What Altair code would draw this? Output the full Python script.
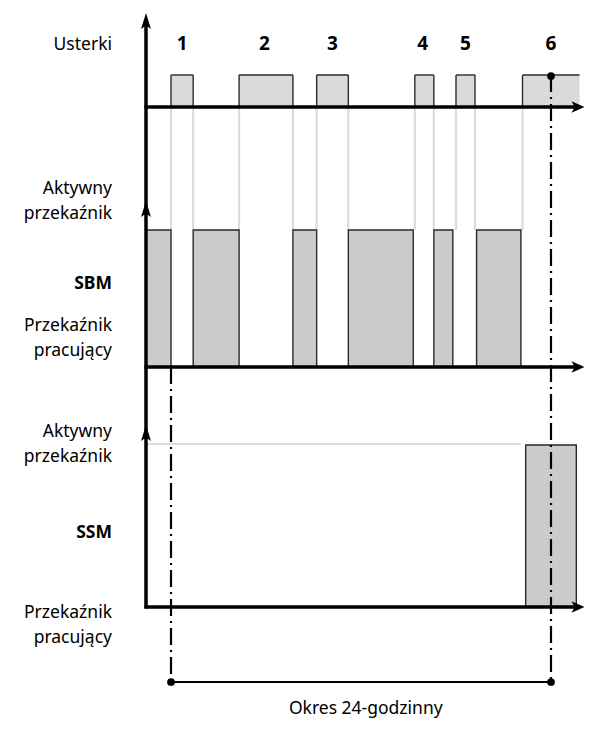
import altair as alt
import pandas as pd

# ---------------- data (hours of the 24-hour test period) ----------------
fault_labels = ["1", "2", "3", "4", "5", "6"]
fault_start = [0.0, 4.3, 9.2, 15.4, 18.0, 22.2]
fault_end = [1.4, 7.7, 11.2, 16.6, 19.2, 25.8]
fault_open = [False, False, False, False, False, True]
fault_label_x = [0.7, 5.9, 10.2, 15.9, 18.6, 24.0]

sbm_start = [-1.6, 1.4, 7.7, 11.2, 16.6, 19.3]
sbm_end = [0.0, 4.3, 9.2, 15.3, 17.8, 22.1]

ssm_standby_end = 22.1
ssm_start = [22.4]
ssm_end = [25.6]

period_start = 0.0
period_end = 24.0
period_label = "Okres 24-godzinny"
fault_row_label = "Usterki"
relay_rows = ["SBM", "SSM"]
state_top = ["Aktywny", "przekaźnik"]
state_bottom = ["Przekaźnik", "pracujący"]

# ---------------- layout (page pixels) ----------------
X0 = 171.0            # pixel of hour 0
PXH = 380.0 / 24.0    # pixels per hour
W, H = 577, 713


def h(px):
    return (px - X0) / PXH


AXIS_X = h(146)
ARROW_C = h(578)
LABEL_X = h(112)

TOP_TIP, FAULT_HIGH, TOP_BASE = 13, 75, 107
SBM_TIP, SBM_HIGH, SBM_BASE = 201, 230, 367
SSM_TIP, SSM_LINE, SSM_HIGH, SSM_BASE = 425, 444, 445, 607
BRACKET_Y, PERIOD_Y = 682, 709
FAULT_NUM_Y, FAULT_ROW_Y = 44, 45
SBM_TEXT_Y = [189, 214, 284, 326, 351]
SSM_TEXT_Y = [432, 457, 533, 613, 638]

FONT = "Noto Sans"
FS = 17.5

xs = alt.Scale(domain=[h(8), h(8 + W)], nice=False, zero=False)
ys = alt.Scale(domain=[8, 8 + H], reverse=True, nice=False, zero=False)


def X(f):
    return alt.X(f, type="quantitative", scale=xs, axis=None)


def X2(f):
    return alt.X2(f)


def Y(f):
    return alt.Y(f, type="quantitative", scale=ys, axis=None)


def Y2(f):
    return alt.Y2(f)


# ---------------- tables ----------------
faults = pd.DataFrame({"label": fault_labels, "s": fault_start, "e": fault_end,
                       "open": fault_open, "lx": fault_label_x})
faults["y1"] = FAULT_HIGH
faults["y2"] = TOP_BASE
faults["ly"] = FAULT_NUM_Y

edges = []
for s, e, o in zip(fault_start, fault_end, fault_open):
    edges.append(s)
    if not o:
        edges.append(e)
f_edges = pd.DataFrame({"x": edges})
f_edges["y1"] = FAULT_HIGH
f_edges["y2"] = TOP_BASE

connectors = pd.DataFrame({"x": edges})
connectors["y1"] = TOP_BASE
connectors["y2"] = SBM_HIGH

sbm = pd.DataFrame({"s": sbm_start, "e": sbm_end})
sbm["y1"] = SBM_HIGH
sbm["y2"] = SBM_BASE

ssm = pd.DataFrame({"s": ssm_start, "e": ssm_end})
ssm["y1"] = SSM_HIGH
ssm["y2"] = SSM_BASE

standby = pd.DataFrame({"s": [AXIS_X], "e": [ssm_standby_end], "y": [SSM_LINE]})

h_axes = pd.DataFrame({"s": [AXIS_X - 0.1] * 3, "e": [ARROW_C] * 3,
                       "y": [TOP_BASE, SBM_BASE, SSM_BASE]})
v_axis = pd.DataFrame({"x": [AXIS_X], "y1": [TOP_TIP + 8], "y2": [SSM_BASE + 1.5]})

h_arrows = pd.DataFrame({"x": [ARROW_C] * 3, "y": [TOP_BASE, SBM_BASE, SSM_BASE]})
v_arrows = pd.DataFrame({"x": [AXIS_X] * 3, "y": [TOP_TIP + 8, SBM_TIP + 8, SSM_TIP + 8]})

dashdot = pd.DataFrame({"x": [period_start, period_end],
                        "y1": [SBM_BASE, FAULT_HIGH], "y2": [BRACKET_Y, BRACKET_Y]})
bracket = pd.DataFrame({"s": [period_start], "e": [period_end], "y": [BRACKET_Y]})
dots = pd.DataFrame({"x": [period_start, period_end, period_end],
                     "y": [BRACKET_Y, BRACKET_Y, FAULT_HIGH + 1]})

left_text = pd.DataFrame({
    "t": [fault_row_label] + state_top + [relay_rows[0]] + state_bottom
         + state_top + [relay_rows[1]] + state_bottom,
    "y": [FAULT_ROW_Y] + SBM_TEXT_Y + SSM_TEXT_Y,
    "bold": [False, False, False, True, False, False, False, False, True, False, False],
})
left_text["x"] = LABEL_X
period_text = pd.DataFrame({"t": [period_label], "x": [(period_start + period_end) / 2 + 0.3],
                            "y": [PERIOD_Y]})

# ---------------- marks ----------------
LIGHT = "#dcdcdc"
DARK = "#2a2a2a"
arrow_h = "M1,0 L-1,-0.9 L-0.5,0 L-1,0.9 Z"
arrow_v = "M0,-1 L-0.62,1 L0,0.55 L0.62,1 Z"

layers = [
    alt.Chart(connectors).mark_rule(color=LIGHT, strokeWidth=2.2).encode(
        x=X("x"), y=Y("y1"), y2=Y2("y2")),
    alt.Chart(standby).mark_rule(color=LIGHT, strokeWidth=2.2).encode(
        x=X("s"), x2=X2("e"), y=Y("y")),
    alt.Chart(faults).mark_rect(color="#dadada").encode(
        x=X("s"), x2=X2("e"), y=Y("y1"), y2=Y2("y2")),
    alt.Chart(faults).mark_rule(color=DARK, strokeWidth=1.4).encode(
        x=X("s"), x2=X2("e"), y=Y("y1")),
    alt.Chart(f_edges).mark_rule(color=DARK, strokeWidth=1.4).encode(
        x=X("x"), y=Y("y1"), y2=Y2("y2")),
    alt.Chart(sbm).mark_rect(fill="#cbcbcb", stroke=DARK, strokeWidth=1.4).encode(
        x=X("s"), x2=X2("e"), y=Y("y1"), y2=Y2("y2")),
    alt.Chart(ssm).mark_rect(fill="#cbcbcb", stroke=DARK, strokeWidth=1.4).encode(
        x=X("s"), x2=X2("e"), y=Y("y1"), y2=Y2("y2")),
    alt.Chart(dashdot).mark_rule(color="black", strokeWidth=2.2,
                                 strokeDash=[17, 5, 2, 5]).encode(
        x=X("x"), y=Y("y1"), y2=Y2("y2")),
    alt.Chart(h_axes).mark_rule(color="black", strokeWidth=3.5).encode(
        x=X("s"), x2=X2("e"), y=Y("y")),
    alt.Chart(v_axis).mark_rule(color="black", strokeWidth=3.5).encode(
        x=X("x"), y=Y("y1"), y2=Y2("y2")),
    alt.Chart(h_arrows).mark_point(shape=arrow_h, size=169, filled=True, color="black",
                                   opacity=1, strokeWidth=0).encode(x=X("x"), y=Y("y")),
    alt.Chart(v_arrows).mark_point(shape=arrow_v, size=256, filled=True, color="black",
                                   opacity=1, strokeWidth=0).encode(x=X("x"), y=Y("y")),
    alt.Chart(bracket).mark_rule(color="black", strokeWidth=2).encode(
        x=X("s"), x2=X2("e"), y=Y("y")),
    alt.Chart(dots).mark_point(shape="circle", size=60, filled=True, color="black",
                               opacity=1).encode(x=X("x"), y=Y("y")),
    alt.Chart(faults).mark_text(font=FONT, fontSize=19, fontWeight="bold", color="black",
                                baseline="middle", align="center").encode(
        x=X("lx"), y=Y("ly"), text="label:N"),
    alt.Chart(left_text[~left_text["bold"]]).mark_text(
        font=FONT, fontSize=FS, color="black", baseline="middle", align="right").encode(
        x=X("x"), y=Y("y"), text="t:N"),
    alt.Chart(left_text[left_text["bold"]]).mark_text(
        font=FONT, fontSize=FS, fontWeight="bold", color="black", baseline="middle",
        align="right").encode(x=X("x"), y=Y("y"), text="t:N"),
    alt.Chart(period_text).mark_text(font=FONT, fontSize=FS, color="black",
                                     baseline="middle", align="center").encode(
        x=X("x"), y=Y("y"), text="t:N"),
]

chart = alt.layer(*layers).properties(
    width=W, height=H, padding=0,
    autosize=alt.AutoSizeParams(type="none"),
).configure_view(strokeWidth=0)

chart.save("out.html", embed_options={"renderer": "svg", "actions": False})
